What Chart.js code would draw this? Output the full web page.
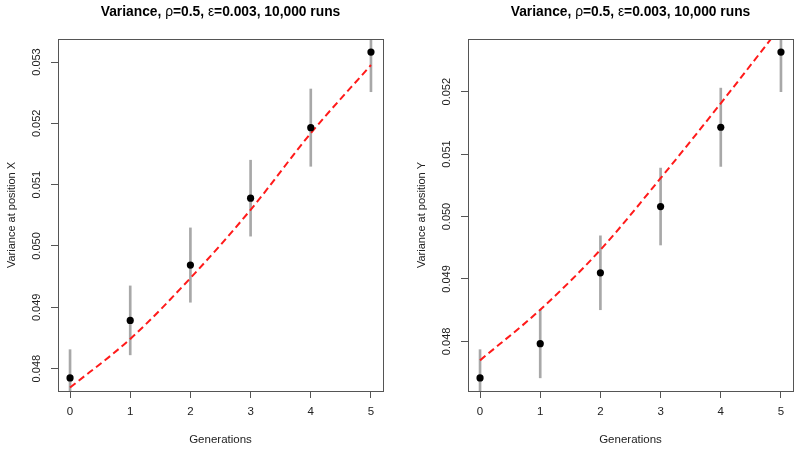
<!DOCTYPE html>
<html>
<head>
<meta charset="utf-8">
<script src="https://cdn.jsdelivr.net/npm/chart.js@4/dist/chart.umd.min.js"></script>
<style>
  body { margin: 0; background: #fff; }
  .wrap { display: flex; width: 800px; height: 450px; }
  .wrap div { width: 400px; height: 450px; }
</style>
</head>
<body>
<div class="wrap">
  <div><canvas id="chartX" width="400" height="450"></canvas></div>
  <div><canvas id="chartY" width="400" height="450"></canvas></div>
</div>
<script>
// --- data ---
const generations = [0, 1, 2, 3, 4, 5];

const varPosX = [0.047848, 0.048787, 0.049689, 0.050780, 0.051930, 0.053163];
const errPosX = [0.000461, 0.000562, 0.000606, 0.000619, 0.000630, 0.000647];
const expPosX = [0.047691, 0.048484, 0.049477, 0.050590, 0.051839, 0.052951];

const varPosY = [0.047414, 0.047963, 0.049099, 0.050160, 0.051430, 0.052635];
const errPosY = [0.000453, 0.000547, 0.000592, 0.000616, 0.000627, 0.000635];
const expPosY = [0.047696, 0.048507, 0.049467, 0.050614, 0.051814, 0.053050];

const xTicks = [0, 1, 2, 3, 4, 5];
const yTicksPosX = [0.048, 0.049, 0.050, 0.051, 0.052, 0.053];
const yTicksPosY = [0.048, 0.049, 0.050, 0.051, 0.052];

const titleParts = [
    { text: 'Variance, ', bold: true },
    { text: 'ρ', bold: false },
    { text: '=0.5, ', bold: true },
    { text: 'ε', bold: false },
    { text: '=0.003, 10,000 runs', bold: true }
];

const FONT = "'Liberation Sans', Arial, Helvetica, sans-serif";
const AXIS = '#555555';

// title + box around the plot, like R's plot()
const rFrame = {
    id: 'rFrame',
    afterDraw(chart) {
        const { ctx, chartArea: a } = chart;
        ctx.save();
        ctx.strokeStyle = AXIS;
        ctx.lineWidth = 1;
        ctx.strokeRect(Math.round(a.left) + 0.5, Math.round(a.top) + 0.5,
            Math.round(a.right - a.left), Math.round(a.bottom - a.top));

        const fontFor = p => (p.bold ? 'bold ' : '') + '13.8px ' + FONT;
        let total = 0;
        titleParts.forEach(p => { ctx.font = fontFor(p); total += ctx.measureText(p.text).width; });
        let x = (a.left + a.right) / 2 - total / 2;
        ctx.fillStyle = '#000';
        ctx.textBaseline = 'middle';
        ctx.textAlign = 'left';
        titleParts.forEach(p => {
            ctx.font = fontFor(p);
            ctx.fillText(p.text, x, 12.5);
            x += ctx.measureText(p.text).width;
        });
        ctx.restore();
    }
};

function makeChart(id, values, errors, expected, yTicks, yTitle, padLeft, padRight) {
    const lo = Math.min(...values), hi = Math.max(...values);
    const ext = (hi - lo) * 0.04;

    return new Chart(document.getElementById(id), {
        type: 'bar',
        data: {
            datasets: [
                {
                    type: 'scatter',
                    data: generations.map((g, i) => ({ x: g, y: values[i] })),
                    backgroundColor: '#000',
                    borderWidth: 0,
                    pointRadius: 3.6,
                    order: 0
                },
                {
                    type: 'line',
                    data: generations.map((g, i) => ({ x: g, y: expected[i] })),
                    borderColor: '#ff1a1a',
                    borderWidth: 2,
                    borderDash: [7, 4],
                    pointRadius: 0,
                    cubicInterpolationMode: 'monotone',
                    fill: false,
                    order: 1
                },
                {
                    type: 'bar',
                    data: generations.map((g, i) => ({ x: g, y: [values[i] - errors[i], values[i] + errors[i]] })),
                    backgroundColor: '#a8a8a8',
                    barThickness: 2,
                    order: 2
                }
            ]
        },
        options: {
            responsive: false,
            animation: false,
            layout: { padding: { top: 39, right: padRight, bottom: 0, left: padLeft } },
            plugins: { legend: { display: false }, tooltip: { enabled: false } },
            scales: {
                x: {
                    type: 'linear',
                    offset: false,
                    min: -0.2,
                    max: 5.2,
                    afterFit: s => { s.height = 59; },
                    afterBuildTicks: s => { s.ticks = xTicks.map(v => ({ value: v })); },
                    grid: { offset: false, drawOnChartArea: false, drawTicks: true, tickLength: 7, tickColor: AXIS },
                    border: { display: true, color: AXIS },
                    ticks: {
                        padding: 7,
                        color: '#222',
                        font: { family: FONT, size: 11.5 },
                        callback: v => String(v)
                    },
                    title: {
                        display: true,
                        text: 'Generations',
                        color: '#222',
                        font: { family: FONT, size: 11.5 },
                        padding: { top: 0, bottom: 3.5 }
                    }
                },
                y: {
                    type: 'linear',
                    min: lo - ext,
                    max: hi + ext,
                    afterFit: s => { s.width = 58; },
                    afterBuildTicks: s => { s.ticks = yTicks.map(v => ({ value: v })); },
                    grid: { drawOnChartArea: false, drawTicks: true, tickLength: 7, tickColor: AXIS },
                    border: { display: true, color: AXIS },
                    ticks: {
                        minRotation: 90,
                        maxRotation: 90,
                        crossAlign: 'center',
                        padding: 0.5,
                        color: '#222',
                        font: { family: FONT, size: 11 },
                        callback: v => v.toFixed(3)
                    },
                    title: {
                        display: true,
                        text: yTitle,
                        color: '#222',
                        font: { family: FONT, size: 11 },
                        padding: { top: 5.5, bottom: 0 }
                    }
                }
            }
        },
        plugins: [rFrame]
    });
}

makeChart('chartX', varPosX, errPosX, expPosX, yTicksPosX, 'Variance at position X', 0, 17);
makeChart('chartY', varPosY, errPosY, expPosY, yTicksPosY, 'Variance at position Y', 10, 7);
</script>
</body>
</html>
